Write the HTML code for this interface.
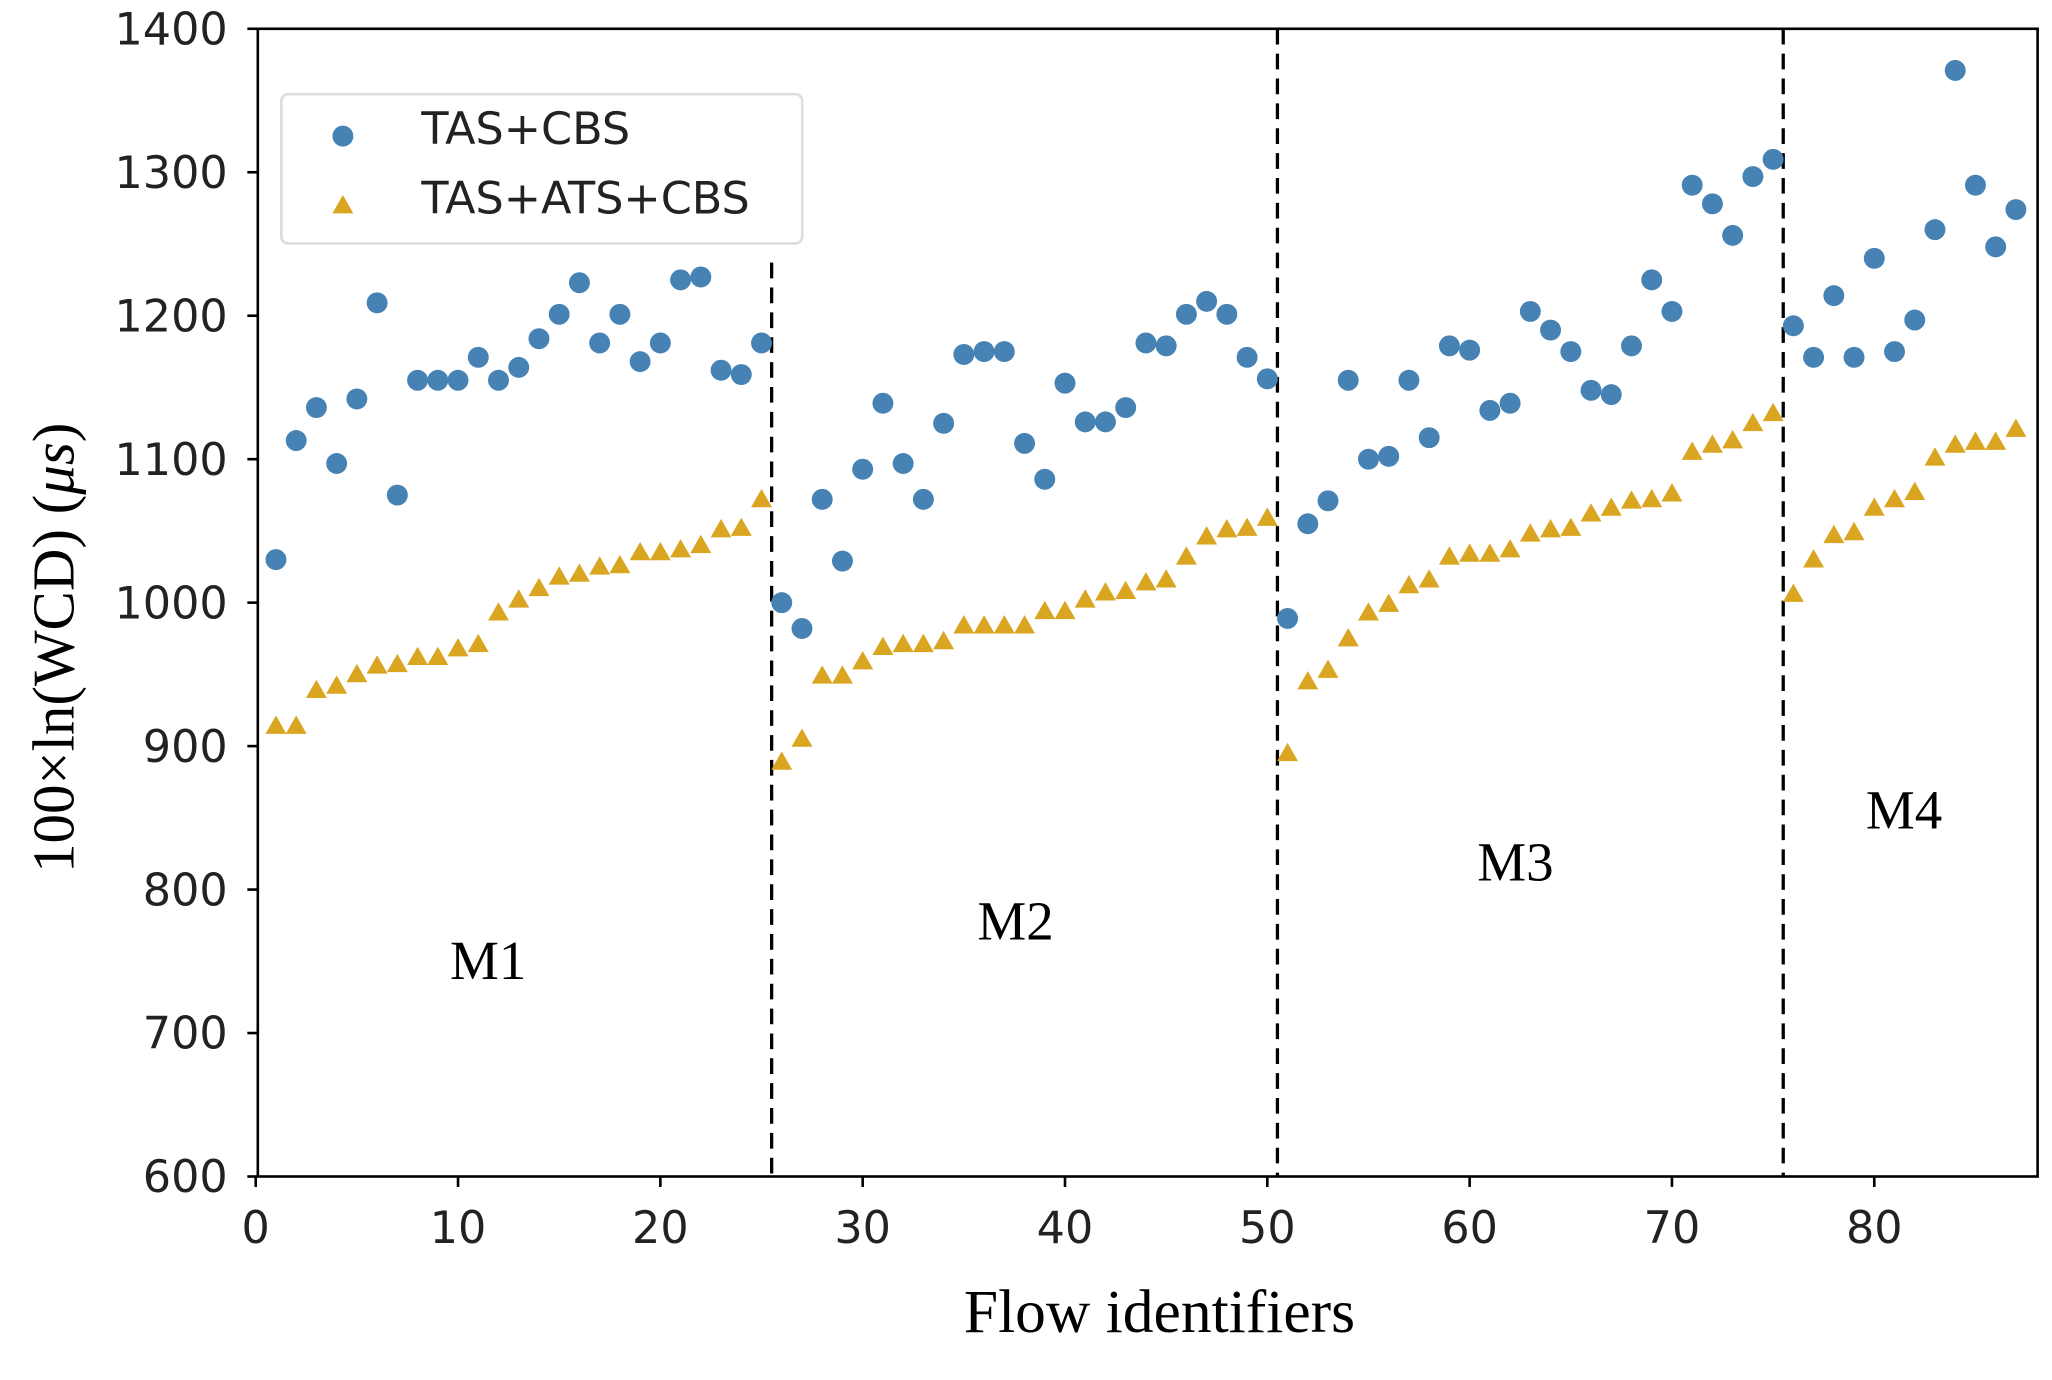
<!DOCTYPE html>
<html><head><meta charset="utf-8"><style>
html,body{margin:0;padding:0;background:#fff;}
svg{display:block;}
.tick{font-family:"DejaVu Sans","Liberation Sans",sans-serif;font-size:34px;fill:#222;}
.serif{font-family:"Liberation Serif",serif;fill:#000;}
</style></head><body>
<svg id="chart" width="2052" height="1380" viewBox="0 0 1568 1054.5" preserveAspectRatio="none" xmlns="http://www.w3.org/2000/svg">
<rect x="0" y="0" width="1568" height="1055" fill="#fff"/>
<g id="grid"></g>
<g id="marks"></g>
<rect x="197" y="22" width="1360" height="877" fill="none" stroke="#000" stroke-width="2"/>
<g id="axes"></g>
<text class="serif" x="373" y="748" font-size="42" text-anchor="middle">M1</text>
<text class="serif" x="776" y="718" font-size="42" text-anchor="middle">M2</text>
<text class="serif" x="1158" y="673" font-size="42" text-anchor="middle">M3</text>
<text class="serif" x="1455" y="633" font-size="42" text-anchor="middle">M4</text>
<text class="serif" x="886" y="1018" font-size="47" text-anchor="middle">Flow identifiers</text>
<text class="serif" transform="translate(56,495) rotate(-90)" font-size="45" text-anchor="middle">100×ln(WCD)  (<tspan font-style="italic">μs</tspan>)</text>
<g>
<rect x="215" y="72" width="398" height="114" rx="5" fill="#fff" stroke="#ddd" stroke-width="2"/>
<circle cx="262" cy="104" r="8" fill="#4682b4"/>
<text class="tick" x="322" y="110" font-size="35">TAS+CBS</text>
<polygon points="262,149 270,163 254,163" fill="#daa520"/>
<text class="tick" x="322" y="163" font-size="35">TAS+ATS+CBS</text>
</g>
</svg>
<script>
const flowIds = Array.from({length:87},(_,i)=>i+1);
const tasCbs = [1030,1113,1136,1097,1142,1209,1075,1155,1155,1155,1171,1155,1164,1184,1201,1223,1181,1201,1168,1181,1225,1227,1162,1159,1181,
1000,982,1072,1029,1093,1139,1097,1072,1125,1173,1175,1175,1111,1086,1153,1126,1126,1136,1181,1179,1201,1210,1201,1171,1156,
989,1055,1071,1155,1100,1102,1155,1115,1179,1176,1134,1139,1203,1190,1175,1148,1145,1179,1225,1203,1291,1278,1256,1297,1309,
1193,1171,1214,1171,1240,1175,1197,1260,1371,1291,1248,1274];
const tasAtsCbs = [914,914,939,942,950,956,957,962,962,968,971,993,1002,1010,1018,1020,1025,1026,1035,1035,1037,1040,1051,1052,1072,
889,905,949,949,959,969,971,971,973,984,984,984,984,994,994,1002,1007,1008,1014,1016,1032,1046,1051,1052,1059,
895,945,953,975,993,999,1012,1016,1032,1034,1034,1037,1048,1051,1052,1062,1066,1071,1072,1076,1105,1110,1113,1125,1132,
1006,1030,1047,1049,1066,1072,1077,1101,1110,1112,1112,1121];
const xTicks = [0,10,20,30,40,50,60,70,80];
const yTicks = [600,700,800,900,1000,1100,1200,1300,1400];
const dividers = [25.5,50.5,75.5];
const dividerTops = [1237,1400,1400];

const NS="http://www.w3.org/2000/svg";
const X=v=>195.4+v*15.46;
const Y=v=>22+(1400-v)*1.09625;
const marks=document.getElementById('marks'), axes=document.getElementById('axes'), grid=document.getElementById('grid');
function mk(tag,attrs,parent){const e=document.createElementNS(NS,tag);for(const k in attrs)e.setAttribute(k,attrs[k]);parent.appendChild(e);return e;}
dividers.forEach((d,i)=>{
  const l=mk('line',{x1:X(d),x2:X(d),y1:Y(dividerTops[i]),y2:899,stroke:'#000','stroke-width':2.5,'stroke-dasharray':'12,7'},grid);
  
  
});
flowIds.forEach((f,i)=>{
  const c=mk('circle',{cx:X(f),cy:Y(tasCbs[i]),r:8,fill:'#4682b4'},marks);
  
  
});
flowIds.forEach((f,i)=>{
  const x=X(f),y=Y(tasAtsCbs[i]);
  const p=mk('polygon',{points:`${x},${y-8} ${x+8},${y+6} ${x-8},${y+6}`,fill:'#daa520'},marks);
  
  
});
xTicks.forEach(t=>{
  mk('line',{x1:X(t),x2:X(t),y1:899,y2:907,stroke:'#000','stroke-width':2},axes);
  const tx=mk('text',{x:X(t),y:950,'text-anchor':'middle',class:'tick'},axes);
  tx.textContent=t;
  
  
});
yTicks.forEach(t=>{
  mk('line',{x1:189,x2:197,y1:Y(t),y2:Y(t),stroke:'#000','stroke-width':2},axes);
  const tx=mk('text',{x:174,y:Y(t)+12,'text-anchor':'end',class:'tick'},axes);
  tx.textContent=t;
  
  
});
</script>
</body></html>
